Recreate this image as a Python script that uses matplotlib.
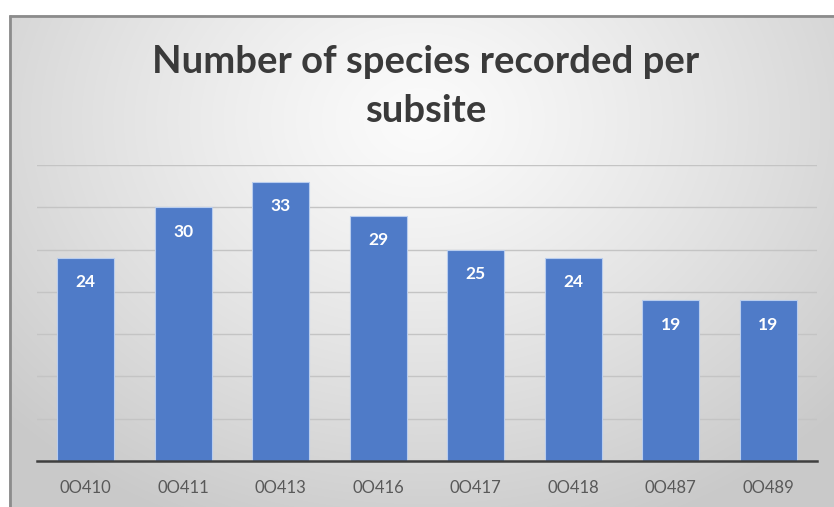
import numpy as np
import matplotlib
matplotlib.use("Agg")
import matplotlib.pyplot as plt

# Species counts per subsite
subsites = ["0O410", "0O411", "0O413", "0O416", "0O417", "0O418", "0O487", "0O489"]
species_counts = [24, 30, 33, 29, 25, 24, 19, 19]
title_lines = ["Number of species recorded per", "subsite"]

W, H, DPI = 834, 507, 100
fig = plt.figure(figsize=(W / DPI, H / DPI), dpi=DPI)
fig.patch.set_facecolor("white")

def fx(px):
    return px / W

def fy(py):
    return 1 - py / H

# Chart area with a soft radial gradient
box_l, box_t = 9, 15
bg_ax = fig.add_axes([fx(box_l), 0, 1 - fx(box_l), fy(box_t)])
bg_ax.set_axis_off()
gw, gh = W - box_l, H - box_t
yy, xx = np.mgrid[0:gh, 0:gw]
cx, cy = 420 - box_l, 120 - box_t
d = np.sqrt(((xx - cx) / 560.0) ** 2 + ((yy - cy) / 440.0) ** 2)
d = np.clip(d, 0, 1)
light, dark = 0.985, 0.79
shade = light - (light - dark) * d ** 1.2
img = np.dstack([shade, shade, shade])
bg_ax.imshow(img, aspect="auto", extent=[0, 1, 0, 1], origin="upper")
bg_ax.set_xlim(0, 1)
bg_ax.set_ylim(0, 1)
# frame border (left and top edges)
bg_ax.plot([0.0015, 0.0015], [0, 1], color="#8c8c8c", lw=2.0, solid_capstyle="butt")
bg_ax.plot([0, 1], [0.997, 0.997], color="#8c8c8c", lw=2.0, solid_capstyle="butt")

# Plot area
ax_l, ax_r, ax_b, ax_t = 37, 817, 461, 165
ax = fig.add_axes([fx(ax_l), fy(ax_b), fx(ax_r - ax_l), (ax_b - ax_t) / H])
ax.patch.set_alpha(0)

x = np.arange(len(subsites))
ax.bar(x, species_counts, width=0.585, color="#4f7bc8",
       edgecolor="#b9cdee", linewidth=0.8, zorder=3)

ax.set_xlim(-0.5, len(subsites) - 0.5)
ax.set_ylim(0, 35)
ax.set_yticks(np.arange(0, 36, 5))
ax.yaxis.grid(True, color="#c4c4c4", lw=1.0, zorder=0)
ax.set_axisbelow(True)
ax.tick_params(axis="y", left=False, labelleft=False)
ax.set_xticks(x)
ax.set_xticklabels(subsites, fontfamily="Lato", fontsize=12, color="#595959")
ax.tick_params(axis="x", length=0, pad=14)
for s in ["top", "right", "left"]:
    ax.spines[s].set_visible(False)
ax.spines["bottom"].set_color("#3f3f3f")
ax.spines["bottom"].set_linewidth(1.8)
ax.spines["bottom"].set_zorder(4)

for xi, v in zip(x, species_counts):
    ax.annotate(str(v), xy=(xi, v), xytext=(0, -17.5), textcoords="offset points",
                ha="center", va="center", color="white", fontweight="bold",
                fontfamily="Lato", fontsize=12.5, zorder=5)

for line, base in zip(title_lines, [73, 122]):
    fig.text(fx(426), fy(base), line, ha="center", va="baseline",
             fontfamily="Lato", fontweight="bold", fontsize=27.5, color="#3a3a3a")

fig.savefig("out.png", dpi=DPI)
